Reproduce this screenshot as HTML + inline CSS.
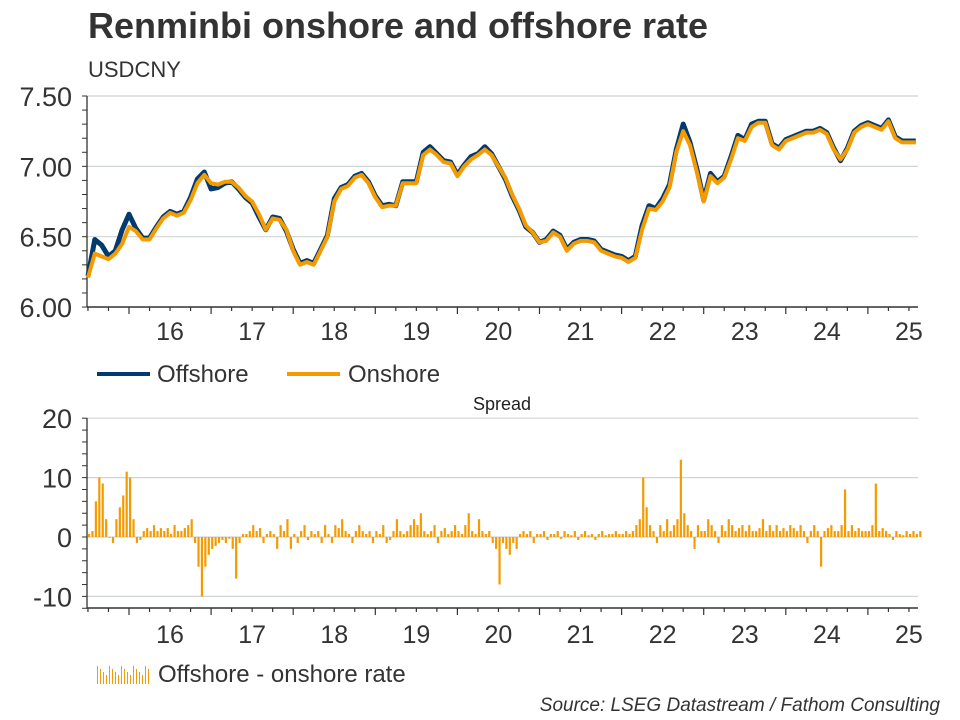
<!DOCTYPE html>
<html><head><meta charset="utf-8"><style>
body{margin:0;background:#fff;}
svg{display:block;font-family:"Liberation Sans",Arial,sans-serif;}
</style></head><body>
<svg id="c" width="960" height="720" xmlns="http://www.w3.org/2000/svg">
<text x="88" y="38" font-size="36" font-weight="bold" fill="#333">Renminbi onshore and offshore rate</text>
<text x="88" y="77" font-size="22" fill="#333">USDCNY</text>
<text x="502" y="410" font-size="18" fill="#222" text-anchor="middle">Spread</text>
<g id="top"></g>
<g id="bot"></g>
<g>
<line x1="97" y1="374" x2="150" y2="374" stroke="#003A70" stroke-width="4"/>
<text x="157" y="382" font-size="24" fill="#333">Offshore</text>
<line x1="287" y1="374" x2="340" y2="374" stroke="#F59B00" stroke-width="4"/>
<text x="348" y="382" font-size="24" fill="#333">Onshore</text>
</g>
<g>
<g id="lg"></g>
<text x="158" y="682" font-size="24" fill="#333">Offshore - onshore rate</text>
</g>
<text x="940" y="711" font-size="19" font-style="italic" fill="#333" text-anchor="end">Source: LSEG Datastream / Fathom Consulting</text>
</svg>
<script>
const yearLabels=["16","17","18","19","20","21","22","23","24","25"];
const rateTicks=[6.0,6.5,7.0,7.5];
const rateTickLabels=["6.00","6.50","7.00","7.50"];
const spreadTicks=[-10,0,10,20];
const spreadTickLabels=["-10","0","10","20"];
const onshore=[6.21,6.38,6.36,6.34,6.38,6.45,
6.57,6.54,6.48,6.48,6.56,6.63,6.67,6.65,6.67,6.76,6.88,6.94,
6.88,6.87,6.89,6.89,6.85,6.79,6.75,6.66,6.55,6.63,6.62,6.55,
6.40,6.30,6.32,6.30,6.40,6.50,6.75,6.84,6.86,6.92,6.94,6.88,
6.78,6.71,6.72,6.72,6.88,6.88,6.88,7.08,7.12,7.08,7.03,7.02,
6.93,7.00,7.05,7.08,7.12,7.08,7.00,6.92,6.80,6.70,6.58,6.53,
6.46,6.47,6.53,6.50,6.40,6.45,6.47,6.47,6.46,6.40,6.38,6.36,
6.35,6.32,6.35,6.55,6.70,6.69,6.75,6.85,7.10,7.25,7.15,6.96,
6.75,6.93,6.88,6.92,7.05,7.20,7.18,7.28,7.31,7.31,7.15,7.12,
7.18,7.20,7.22,7.24,7.24,7.26,7.23,7.12,7.05,7.12,7.24,7.28,
7.30,7.28,7.26,7.32,7.20,7.17,7.17,7.17];
const offshore=[6.22,6.48,6.44,6.36,6.40,6.55,
6.66,6.56,6.49,6.49,6.57,6.64,6.68,6.66,6.68,6.78,6.91,6.96,
6.84,6.85,6.88,6.89,6.84,6.78,6.74,6.64,6.55,6.64,6.63,6.54,
6.41,6.31,6.33,6.31,6.41,6.51,6.77,6.85,6.87,6.93,6.95,6.89,
6.79,6.72,6.73,6.72,6.89,6.89,6.89,7.10,7.14,7.09,7.04,7.03,
6.94,7.01,7.07,7.09,7.14,7.09,7.00,6.91,6.79,6.69,6.57,6.53,
6.46,6.48,6.54,6.51,6.41,6.46,6.48,6.48,6.47,6.41,6.39,6.37,
6.36,6.33,6.36,6.58,6.72,6.70,6.77,6.87,7.12,7.30,7.17,6.98,
6.76,6.95,6.89,6.93,7.07,7.22,7.19,7.30,7.32,7.32,7.16,7.13,
7.19,7.21,7.23,7.25,7.25,7.27,7.24,7.13,7.04,7.13,7.25,7.29,
7.31,7.29,7.27,7.33,7.21,7.18,7.18,7.18];
const spread=[0.5,1,6,10,9,3,0,-1,3,5,7,11,
10,3,-1,-0.5,1,1.5,1,2,1,1.5,1,1.5,0.5,2,1,1,1.5,2,3,-1,-5,-10,-5,-3,
-2,-1.5,-1,-0.5,-1,-0.3,-2,-7,-1,0.5,0.5,1,2,1,1.5,-1,0.5,1,0.5,-2,2,1,3,-2,
0.5,-1,1,2,-0.5,1,0.5,1,-1,2,0.5,-1,2,1.5,3,1,0.5,-1,1,2,1,0.5,1,-1,
1,0.5,2,-1,-0.5,1,3,1,0.5,1,2,3,2,4,1,0.5,1,2,-1,1,1.5,0.5,1,2,
1,0.5,2,4,1,0.5,3,1,0.5,1,-1,-2,-8,-1,-2,-3,-1,-2,0.5,1,0.5,1,-1,0.5,
0.5,1,-0.5,0.5,0.5,1,-0.3,1,0.5,0.3,1,-0.5,0.5,1,0.3,0.5,-0.5,0.5,1,0.3,0.5,0.5,1,0.5,
0.5,1,0.5,1,2,3,10,5,2,1,-1,2,1,3,1,2,3,13,4,2,1,-2,2,1,
1,3,2,1,-1,2,1,3,2,1,1.5,2,1,2,1,1,1.5,3,1,2,1,2,1,1.5,
1,2,1.5,1,2,1,-1,1,2,1,-5,1,1.5,2,1,1,2,8,1,2,1,1.5,1,1,
1,2,9,1,1.5,1,0.5,-0.5,1,0.5,0.3,1,0.5,1,0.5,1];
const NS="http://www.w3.org/2000/svg";
const X0=87,X1=918,T0=2015.5,YW=82.1;
function xT(t){return 129+(t-2016)*YW;}
function yRate(v){return 96+(7.5-v)*140.7;}
function ySp(v){return 537-v*5.94;}
function mk(tag,at,parent){const e=document.createElementNS(NS,tag);for(const k in at)e.setAttribute(k,at[k]);parent.appendChild(e);return e;}
function axes(g,yf,ticks,labels,minStep,vmin,vmax,yBottom,yTop,labY){
 ticks.forEach((v,i)=>{
  const gl=mk('line',{x1:X0,x2:X1,y1:yf(v),y2:yf(v),stroke:'#cfd4d6','stroke-width':1.2},g);
  
  
  const t=mk('text',{x:72,y:yf(v)+10,'font-size':27,fill:'#333','text-anchor':'end'},g);
  t.textContent=labels[i];
  
  
 });
 for(let v=vmin;v<=vmax+1e-9;v+=minStep){mk('line',{x1:X0-5,x2:X0,y1:yf(v),y2:yf(v),stroke:'#333','stroke-width':1},g);}
 const ax=mk('line',{x1:X0,x2:X0,y1:yTop,y2:yBottom,stroke:'#333','stroke-width':1.3},g);
 
 
 const bx=mk('line',{x1:X0,x2:X1,y1:yBottom,y2:yBottom,stroke:'#333','stroke-width':1.5},g);
 
 
 for(let q=0;q<=41;q++){const t=T0+q*0.25;const x=xT(t);if(x>X1)break;
  const maj=Math.abs(t-Math.round(t))<1e-6;
  mk('line',{x1:x,x2:x,y1:yBottom,y2:yBottom+(maj?7:4),stroke:'#333','stroke-width':1.2},g);}
 yearLabels.forEach((l,i)=>{const t=mk('text',{x:xT(2016.5+i),y:labY,'font-size':25,fill:'#333','text-anchor':'middle'},g);
  t.textContent=l;
  
  });
}
const gTop=document.getElementById('top'),gBot=document.getElementById('bot');
axes(gTop,yRate,rateTicks,rateTickLabels,0.1,6.0,7.5,307,96,340);
axes(gBot,ySp,spreadTicks,spreadTickLabels,2,-12,20,608,418,643);
function pts(arr){return arr.map((v,i)=>xT(T0+i/12).toFixed(1)+','+yRate(v).toFixed(1)).join(' ');}
const off=mk('polyline',{points:pts(offshore),fill:'none',stroke:'#003A70','stroke-width':5,'stroke-linejoin':'round'},gTop);


const on=mk('polyline',{points:pts(onshore),fill:'none',stroke:'#F59B00','stroke-width':4,'stroke-linejoin':'round'},gTop);


spread.forEach((v,i)=>{const x=xT(T0+i/24);const y0=ySp(0),y1=ySp(v);
 const r=mk('rect',{x:x,y:Math.min(y0,y1),width:2.2,height:Math.max(0.8,Math.abs(y1-y0)),fill:'#F59B00'},gBot);
 
 });
const lg=document.getElementById('lg');
for(let i=0;i<18;i++){mk('line',{x1:97.5+i*3,x2:97.5+i*3,y1:684,y2:666+(i%4)*3,stroke:'#F59B00','stroke-width':1},lg);}
</script>
</body></html>
